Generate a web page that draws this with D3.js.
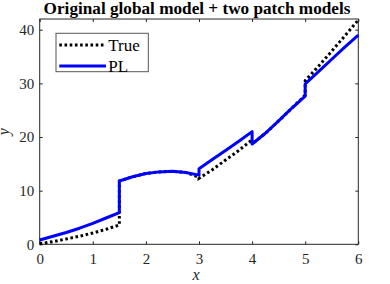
<!DOCTYPE html>
<html>
<head>
<meta charset="utf-8">
<script src="https://cdn.jsdelivr.net/npm/d3@7"></script>
<style>
  body { margin: 0; background: #fff; }
  svg { display: block; }
  svg text { font-family: "Liberation Serif", "Times New Roman", Times, serif; }
</style>
</head>
<body>
<div id="chart"></div>
<script>
const xTicks = [0, 1, 2, 3, 4, 5, 6];
const yTicks = [0, 10, 20, 30, 40];

// "True" curve, jumps kept as repeated x values
const trueX = [0, 0.25, 0.5, 0.75, 1, 1.25, 1.5,
               1.5, 1.75, 2, 2.25, 2.5, 2.75, 3,
               3, 3.25, 3.5, 3.75, 4,
               4, 4.25, 4.5, 4.75, 5,
               5, 5.25, 5.5, 5.75, 6];
const trueY = [0.1, 0.5, 1.0, 1.5, 2.1, 2.8, 3.6,
               11.8, 12.6, 13.2, 13.5, 13.6, 13.4, 12.5,
               12.3, 13.9, 15.7, 17.5, 19.5,
               18.7, 20.7, 23.0, 25.4, 27.8,
               30.5, 33.2, 36.0, 38.9, 41.8];

// PL model
const plX = trueX;
const plY = [0.8, 1.5, 2.2, 3.0, 3.9, 4.9, 5.9,
             11.8, 12.6, 13.2, 13.5, 13.6, 13.4, 12.9,
             14.1, 15.8, 17.5, 19.2, 21.0,
             18.7, 20.7, 23.0, 25.4, 27.6,
             29.9, 32.2, 34.5, 36.8, 39.0];

const width = 390, height = 284;
const margin = { top: 19, right: 31.7, bottom: 39.7, left: 39.7 };
const innerWidth = width - margin.left - margin.right;
const innerHeight = height - margin.top - margin.bottom;
const axisColor = "#262626";

const svg = d3.select("#chart").append("svg")
  .attr("width", width)
  .attr("height", height);

const g = svg.append("g")
  .attr("transform", `translate(${margin.left},${margin.top})`);

const x = d3.scaleLinear().domain([0, 6]).range([0, innerWidth]);
const y = d3.scaleLinear().domain([0, 42]).range([innerHeight, 0]);

// Box
g.append("rect")
  .attr("width", innerWidth)
  .attr("height", innerHeight)
  .attr("fill", "none")
  .attr("stroke", axisColor)
  .attr("stroke-width", 1);

// Axes, ticks inward
const fmt = d3.format("d");
const xAxis = g.append("g")
  .attr("transform", `translate(0,${innerHeight})`)
  .call(d3.axisBottom(x).tickValues(xTicks).tickFormat(fmt).tickSizeInner(-3).tickSizeOuter(0).tickPadding(9));
const xTop = g.append("g")
  .call(d3.axisTop(x).tickValues(xTicks).tickSizeInner(-3).tickSizeOuter(0));
const yAxis = g.append("g")
  .call(d3.axisLeft(y).tickValues(yTicks).tickFormat(fmt).tickSizeInner(-3).tickSizeOuter(0).tickPadding(5.5));
const yRight = g.append("g")
  .attr("transform", `translate(${innerWidth},0)`)
  .call(d3.axisRight(y).tickValues(yTicks).tickSizeInner(-3).tickSizeOuter(0));

// top and right carry ticks only
xTop.selectAll("text").remove();
yRight.selectAll("text").remove();

[xAxis, xTop, yAxis, yRight].forEach(a => {
  a.attr("font-family", null).attr("font-size", null);
  a.select(".domain").remove();
  a.selectAll("line").attr("stroke", axisColor);
  a.selectAll("text")
    .attr("fill", axisColor)
    .style("font-size", "15px");
});

// Axis labels
g.append("text")
  .attr("x", x(3) - 3)
  .attr("y", innerHeight + 36)
  .attr("text-anchor", "middle")
  .attr("fill", axisColor)
  .style("font-size", "16px")
  .style("font-style", "italic")
  .text("x");

g.append("text")
  .attr("transform", "rotate(-90)")
  .attr("x", -innerHeight / 2)
  .attr("y", -30.5)
  .attr("text-anchor", "middle")
  .attr("fill", axisColor)
  .style("font-size", "16px")
  .style("font-style", "italic")
  .text("y");

// Title
svg.append("text")
  .attr("x", 197)
  .attr("y", 14)
  .attr("text-anchor", "middle")
  .attr("fill", "#000")
  .style("font-size", "17.2px")
  .style("font-weight", "bold")
  .text("Original global model + two patch models");

// Lines
const line = d3.line()
  .x(d => x(d[0]))
  .y(d => y(d[1]));

svg.append("clipPath").attr("id", "clip")
  .append("rect").attr("x", -2).attr("y", -2).attr("width", innerWidth + 4).attr("height", innerHeight + 4);

const plot = g.append("g").attr("clip-path", "url(#clip)");

plot.append("path")
  .datum(d3.zip(trueX, trueY))
  .attr("d", line)
  .attr("fill", "none")
  .attr("stroke", "#000")
  .attr("stroke-width", 3)
  .attr("stroke-dasharray", "2.6,2.6");

plot.append("path")
  .datum(d3.zip(plX, plY))
  .attr("d", line)
  .attr("fill", "none")
  .attr("stroke", "#0000ff")
  .attr("stroke-width", 3)
  .attr("stroke-linejoin", "round");

// Legend
const legend = svg.append("g").attr("transform", "translate(56,33.3)");
legend.append("rect")
  .attr("width", 92.3)
  .attr("height", 38.4)
  .attr("fill", "#fff")
  .attr("stroke", "#555")
  .attr("stroke-width", 1);

const legendItems = [
  { name: "True", color: "#000", dash: "2.6,2.6" },
  { name: "PL", color: "#0000ff", dash: null }
];
legendItems.forEach((d, i) => {
  const yy = 11.7 + i * 21;
  legend.append("line")
    .attr("x1", 3.3).attr("x2", 50)
    .attr("y1", yy).attr("y2", yy)
    .attr("stroke", d.color)
    .attr("stroke-width", 3)
    .attr("stroke-dasharray", d.dash);
  legend.append("text")
    .attr("x", 52.3)
    .attr("y", yy + 6)
    .attr("fill", "#000")
    .style("font-size", "17px")
    .text(d.name);
});
</script>
</body>
</html>
